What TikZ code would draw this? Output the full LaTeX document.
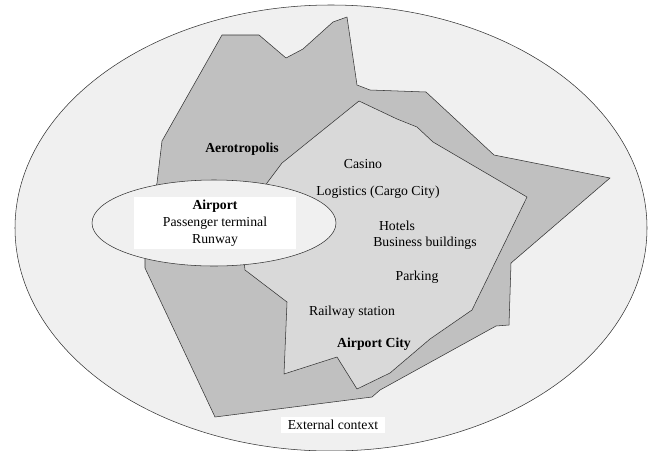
\documentclass[tikz,border=0pt]{standalone}
\usepackage{fontspec}
\setmainfont{Liberation Serif}
\usetikzlibrary{shapes.geometric}
\definecolor{contextgray}{HTML}{F0F0F0}
\definecolor{aerogray}{HTML}{C0C0C0}
\definecolor{citygray}{HTML}{D9D9D9}
\tikzset{x=0.75pt, y=-0.75pt, % One unit is one pixel of the reference
        zone/.style={ % Sets the properties for each area
            draw=black!80,
            thin,
            line join=round},
        place/.style={ % Sets the properties for each text
            font=\fontsize{10.3}{12.8}\selectfont,
            inner sep=1pt},
        heading/.style={ % Bold names of the areas
            place,
            font=\fontsize{10.3}{12.8}\selectfont\bfseries}
        }

\begin{document}
\begin{tikzpicture}
    \useasboundingbox (0,0) rectangle (648,450);

    % external context
    \draw[zone, fill=contextgray] (331,228) ellipse [x radius=316, y radius=223];

    % aerotropolis
    \draw[zone, fill=aerogray]
        (222,35) -- (259,35) -- (286,58) -- (303,49) -- (333,22) -- (347,17)
        -- (357,85) -- (370,90) -- (426,92) -- (494,155) -- (610,178)
        -- (525,251) -- (511,263) -- (509,325) -- (496,326) -- (380,390)
        -- (372,397) -- (215,417) -- (145,268) -- (145,230) -- (157,183)
        -- (162,141) -- cycle;

    % airport city
    \draw[zone, fill=citygray]
        (359,101) -- (397,119) -- (417,127) -- (433,142) -- (527,197)
        -- (472,310) -- (430,339) -- (390,373) -- (357,389) -- (337,357)
        -- (284,374) -- (287,302) -- (245,270) -- (240,225) -- (267,183)
        -- (282,163) -- cycle;

    % airport
    \node[ellipse, zone, fill=contextgray, minimum width=183pt,
        minimum height=64.5pt] (airport) at (214,223) {};
    \node[place, fill=white, align=center, minimum width=121.5pt,
        minimum height=39pt] (airportinfo) at (215,223)
        {\textbf{Airport}\\Passenger terminal\\Runway};

    \node[heading] (aerotropolis) at (242,149) {Aerotropolis};
    \node[place] (casino) at (363,164) {Casino};
    \node[place] (logistics) at (378,192) {Logistics (Cargo City)};
    \node[place] (hotels) at (397,226) {Hotels};
    \node[place] (business) at (425,243) {Business buildings};
    \node[place] (parking) at (417,277) {Parking};
    \node[place] (railway) at (352,312) {Railway station};
    \node[heading] (airportcity) at (374,344) {Airport City};
    \node[place, fill=white, inner xsep=5pt, minimum height=12pt]
        (context) at (333,425) {External context};
\end{tikzpicture}
\end{document}
